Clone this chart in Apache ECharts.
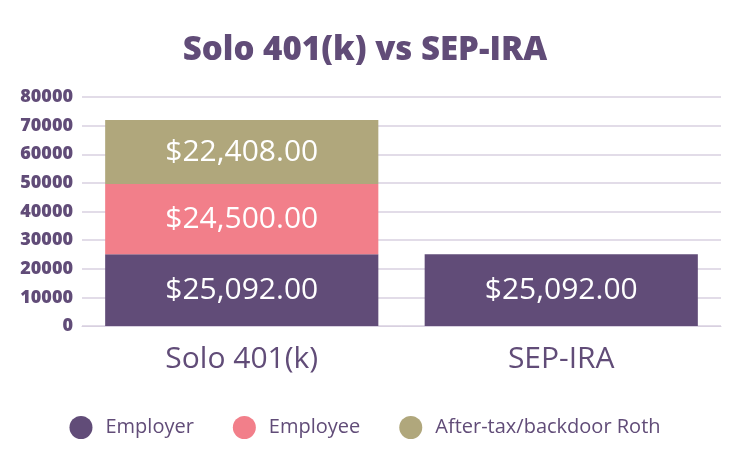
<!DOCTYPE html>
<html>
<head>
<meta charset="utf-8">
<script src="https://cdn.jsdelivr.net/npm/echarts@6/dist/echarts.min.js"></script>
<style>
  html, body { margin: 0; padding: 0; background: #fff; }
  #chart { width: 730px; height: 470px; }
</style>
</head>
<body>
<div id="chart"></div>
<script>
const categories = ['Solo 401(k)', 'SEP-IRA'];
const employer = [25092, 25092];
const employee = [24500, null];
const afterTax = [22408, null];
const yTicks = { min: 0, max: 80000, interval: 10000 };

const purple = '#614c78';
const font = '"Open Sans"';

function money(v) {
  return '$' + v.toLocaleString('en-US', { minimumFractionDigits: 2, maximumFractionDigits: 2 });
}

const labelStyle = {
  show: true,
  position: 'inside',
  color: '#fff',
  fontFamily: font,
  fontSize: 30,
  formatter: p => money(p.value)
};

function series(name, data, color) {
  return {
    name: name,
    type: 'bar',
    stack: 'total',
    data: data,
    barWidth: '85.5%',
    itemStyle: { color: color },
    label: labelStyle,
    emphasis: { disabled: true }
  };
}

const chart = echarts.init(document.getElementById('chart'));
chart.setOption({
  textStyle: { fontFamily: font },
  title: {
    text: 'Solo 401(k) vs SEP-IRA',
    left: 'center',
    top: 29,
    textStyle: { color: purple, fontSize: 33, fontWeight: 800, fontFamily: font }
  },
  legend: {
    bottom: 26,
    left: 'center',
    icon: 'circle',
    itemWidth: 23,
    itemHeight: 23,
    itemGap: 39,
    textStyle: { color: purple, fontSize: 20, fontFamily: font, padding: [0, 0, 0, 8] },
    data: ['Employer', 'Employee', 'After-tax/backdoor Roth']
  },
  grid: { left: 82, right: 9, top: 97, bottom: 144 },
  xAxis: {
    type: 'category',
    data: categories,
    axisLine: { show: true, lineStyle: { color: '#d8d0e0' } },
    axisTick: { show: false },
    axisLabel: { color: purple, fontSize: 30, fontWeight: 500, fontFamily: font, margin: 18 }
  },
  yAxis: {
    type: 'value',
    min: yTicks.min,
    max: yTicks.max,
    interval: yTicks.interval,
    axisLine: { show: false },
    axisTick: { show: false },
    splitLine: { lineStyle: { color: '#d8d0e0', width: 1.5 } },
    axisLabel: {
      color: purple, fontSize: 18, fontWeight: 800, fontFamily: font, margin: 9,
      formatter: v => String(v)
    }
  },
  series: [
    series('Employer', employer, '#614c78'),
    series('Employee', employee, '#f27f8a'),
    series('After-tax/backdoor Roth', afterTax, '#b0a77c')
  ]
});
window.addEventListener('resize', chart.resize);
</script>
</body>
</html>
